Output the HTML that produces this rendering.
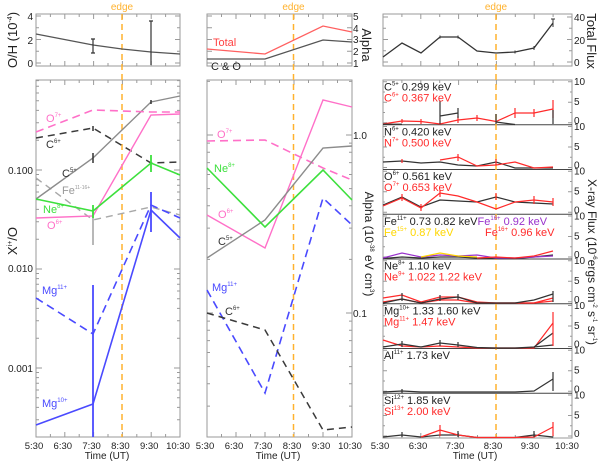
<!DOCTYPE html>
<html><head><meta charset="utf-8"><style>
html,body{margin:0;padding:0;background:#fff;}
svg{display:block;font-family:"Liberation Sans",Arial,sans-serif;}
</style></head><body>
<svg width="600" height="464" viewBox="0 0 600 464" xmlns="http://www.w3.org/2000/svg">
<defs>
<path id="lmin" d="M0 80.6h3M0 86.3h3M0 93h3M0 100.8h3M0 110.4h3M0 122.8h3M0 140.2h3M0 174.5h3M0 179.6h3M0 185.3h3M0 192h3M0 199.8h3M0 209.4h3M0 221.8h3M0 239.2h3M0 273.5h3M0 278.6h3M0 284.3h3M0 291h3M0 298.8h3M0 308.4h3M0 320.8h3M0 338.2h3M0 372.5h3M0 377.6h3M0 383.3h3M0 390h3M0 397.8h3M0 407.4h3M0 419.8h3M0 170h6M0 269h6M0 368h6"/>
<path id="mmin" d="M0 81.4h3M0 143.1h3M0 152.3h3M0 162.6h3M0 174.5h3M0 188.6h3M0 205.8h3M0 228.1h3M0 259.4h3M0 321.1h3M0 330.3h3M0 340.6h3M0 352.5h3M0 366.6h3M0 383.8h3M0 406.1h3M0 135h6M0 313h6"/>
<path id="sub" d="M0 42.75h4M0 22.25h4M0 1.75h4M0 32.5h2M0 12h2"/>
</defs>

<!-- frames -->
<g fill="none" stroke="#9a9a9a" stroke-width="1">
<rect x="36" y="14" width="144" height="52"/>
<rect x="36" y="80" width="144" height="357"/>
<rect x="207" y="14" width="145" height="52"/>
<rect x="207" y="80" width="145" height="357"/>
<rect x="383" y="14" width="189" height="52"/>
<rect x="383" y="80" width="189" height="358"/>
</g>

<!-- ticks -->
<g fill="none" stroke="#9a9a9a" stroke-width="1">
<path d="M36 63h5M36 39.5h5M36 16h5M36 51.25h3M36 27.75h3M180 63h-5M180 39.5h-5M180 16h-5M180 51.25h-3M180 27.75h-3"/>
<path d="M64.8 66v-5M93.6 66v-5M122.4 66v-5M151.2 66v-5M64.8 14v5M93.6 14v5M122.4 14v5M151.2 14v5M50.4 66v-3M79.2 66v-3M108 66v-3M136.8 66v-3M165.6 66v-3M50.4 14v3M79.2 14v3M108 14v3M136.8 14v3M165.6 14v3"/>
<path d="M64.8 437v-5M93.6 437v-5M122.4 437v-5M151.2 437v-5M64.8 80v5M93.6 80v5M122.4 80v5M151.2 80v5M50.4 437v-3M79.2 437v-3M108 437v-3M136.8 437v-3M165.6 437v-3M50.4 80v3M79.2 80v3M108 80v3M136.8 80v3M165.6 80v3"/>
<use href="#lmin" x="36"/>
<use href="#lmin" transform="translate(180,0) scale(-1,1)"/>

<path d="M207 63h5M207 51.25h5M207 39.5h5M207 27.75h5M207 16h5M352 63h-5M352 51.25h-5M352 39.5h-5M352 27.75h-5M352 16h-5"/>
<path d="M236 66v-5M265 66v-5M294 66v-5M323 66v-5M236 14v5M265 14v5M294 14v5M323 14v5M221.5 66v-3M250.5 66v-3M279.5 66v-3M308.5 66v-3M337.5 66v-3M221.5 14v3M250.5 14v3M279.5 14v3M308.5 14v3M337.5 14v3"/>
<path d="M236 437v-5M265 437v-5M294 437v-5M323 437v-5M236 80v5M265 80v5M294 80v5M323 80v5M221.5 437v-3M250.5 437v-3M279.5 437v-3M308.5 437v-3M337.5 437v-3M221.5 80v3M250.5 80v3M279.5 80v3M308.5 80v3M337.5 80v3"/>
<use href="#mmin" x="207"/>
<use href="#mmin" transform="translate(352,0) scale(-1,1)"/>

<path d="M383 62h5M383 50.75h3M383 39.5h5M383 28.25h3M383 17h5M572 62h-5M572 50.75h-3M572 39.5h-5M572 28.25h-3M572 17h-5"/>
<path d="M420.8 66v-5M458.6 66v-5M496.4 66v-5M534.2 66v-5M420.8 14v5M458.6 14v5M496.4 14v5M534.2 14v5M401.9 66v-3M439.7 66v-3M477.5 66v-3M515.3 66v-3M553.1 66v-3M401.9 14v3M439.7 14v3M477.5 14v3M515.3 14v3M553.1 14v3"/>
<path d="M420.8 438v-5M458.6 438v-5M496.4 438v-5M534.2 438v-5M420.8 80v5M458.6 80v5M496.4 80v5M534.2 80v5M401.9 438v-3M439.7 438v-3M477.5 438v-3M515.3 438v-3M553.1 438v-3M401.9 80v3M439.7 80v3M477.5 80v3M515.3 80v3M553.1 80v3"/>
<use href="#sub" transform="translate(383,80)"/>
<use href="#sub" transform="translate(383,124.75)"/>
<use href="#sub" transform="translate(383,169.5)"/>
<use href="#sub" transform="translate(383,214.25)"/>
<use href="#sub" transform="translate(383,259)"/>
<use href="#sub" transform="translate(383,303.75)"/>
<use href="#sub" transform="translate(383,348.5)"/>
<use href="#sub" transform="translate(383,393.25)"/>
<use href="#sub" transform="translate(572,80) scale(-1,1)"/>
<use href="#sub" transform="translate(572,124.75) scale(-1,1)"/>
<use href="#sub" transform="translate(572,169.5) scale(-1,1)"/>
<use href="#sub" transform="translate(572,214.25) scale(-1,1)"/>
<use href="#sub" transform="translate(572,259) scale(-1,1)"/>
<use href="#sub" transform="translate(572,303.75) scale(-1,1)"/>
<use href="#sub" transform="translate(572,348.5) scale(-1,1)"/>
<use href="#sub" transform="translate(572,393.25) scale(-1,1)"/>
</g>

<!-- subpanel dividers -->
<g stroke="#444" stroke-width="1">
<path d="M383 124.75H572M383 169.5H572M383 214.25H572M383 259H572M383 303.75H572M383 348.5H572M383 393.25H572"/>
</g>

<!-- edge lines -->
<g stroke="#ffb22e" stroke-width="1.5" stroke-dasharray="6 4" fill="none">
<path d="M122 14V437M293.5 14V437M496 14V438"/>
</g>
<g fill="#ffb22e" font-size="10" text-anchor="middle">
<text x="122" y="10">edge</text>
<text x="293.5" y="10">edge</text>
<text x="496" y="10">edge</text>
</g>

<!-- LEFT TOP -->
<g fill="none" stroke="#555" stroke-width="1.2">
<polyline points="36,34 93,45 122,49 151,52 180,54"/>
<path d="M93 39V53M91 39h4M91 53h4M151 21V65M149 21h4" stroke="#333"/>
</g>

<!-- LEFT MAIN -->
<g fill="none" stroke-width="1.4">
<polyline points="36,178 93,220 151,207 180,215" stroke="#a8a8a8" stroke-dasharray="7 5"/>
<path d="M93 211V245" stroke="#b0b0b0" stroke-width="1.8"/>
<polyline points="36,199 93,158 151,102 180,96" stroke="#8c8c8c"/>
<polyline points="36,132 93,110 151,112 180,112" stroke="#ff70c8" stroke-dasharray="8 5" stroke-width="1.6"/>
<polyline points="36,138 93,128 151,163 180,162" stroke="#3a3a3a" stroke-dasharray="7 5" stroke-width="1.5"/>
<polyline points="36,218 93,216 151,115 180,114" stroke="#ff70c8"/>
<polyline points="36,199 93,211 151,163 180,175" stroke="#3de03d" stroke-width="1.6"/>
<polyline points="36,298 93,334 151,205 180,218" stroke="#4a4aff" stroke-dasharray="8 5" stroke-width="1.6"/>
<polyline points="36,425 93,404 151,210 180,238" stroke="#4a4aff" stroke-width="1.6"/>
<path d="M93 285V437" stroke="#4a4aff" stroke-width="1.8"/>
<path d="M151 192V232" stroke="#4a4aff" stroke-width="1.8"/>
<path d="M151 155V172" stroke="#3de03d" stroke-width="1.8"/>
<path d="M93 205V218" stroke="#3de03d" stroke-width="1.8"/>
<path d="M93 153V163M151 100V104M93 126V131" stroke="#333" stroke-width="1.5"/>
</g>
<g font-size="11">
<text x="46" y="122" fill="#ff70c8">O<tspan font-size="6" dy="-5">7+</tspan></text>
<text x="46" y="148" fill="#333">C<tspan font-size="6" dy="-5">6+</tspan></text>
<text x="62" y="177" fill="#333">C<tspan font-size="6" dy="-5">5+</tspan></text>
<text x="62" y="194" fill="#999">Fe<tspan font-size="5" dy="-5">11-16+</tspan></text>
<text x="43" y="213" fill="#3de03d">Ne<tspan font-size="6" dy="-5">8+</tspan></text>
<text x="47" y="229" fill="#ff70c8">O<tspan font-size="6" dy="-5">6+</tspan></text>
<text x="42" y="294" fill="#4a4aff">Mg<tspan font-size="6" dy="-5">11+</tspan></text>
<text x="42" y="407" fill="#4a4aff">Mg<tspan font-size="6" dy="-5">10+</tspan></text>
</g>

<!-- MIDDLE TOP -->
<g fill="none" stroke-width="1.3">
<polyline points="207,49 265,54 323,26 352,32" stroke="#ff6060"/>
<polyline points="207,59 265,59 323,40 352,42" stroke="#555"/>
</g>
<text x="213" y="46" font-size="11" fill="#ff4040">Total</text>
<text x="211" y="70" font-size="11" fill="#222">C &amp; O</text>

<!-- MIDDLE MAIN -->
<g fill="none" stroke-width="1.4">
<polyline points="207,141 265,140 323,168 352,180" stroke="#ff70c8" stroke-dasharray="8 5" stroke-width="1.6"/>
<polyline points="207,215 265,248 323,100 352,107" stroke="#ff70c8"/>
<polyline points="207,258 265,220 323,148 352,146" stroke="#8c8c8c"/>
<polyline points="207,168 265,227 323,170 352,200" stroke="#3de03d" stroke-width="1.6"/>
<polyline points="207,290 265,393 323,198 352,225" stroke="#4a4aff" stroke-dasharray="8 5" stroke-width="1.6"/>
<polyline points="207,313 265,330 323,430 352,427" stroke="#3a3a3a" stroke-dasharray="7 5" stroke-width="1.5"/>
</g>
<g font-size="11">
<text x="217" y="138" fill="#ff70c8">O<tspan font-size="6" dy="-5">7+</tspan></text>
<text x="214" y="172" fill="#3de03d">Ne<tspan font-size="6" dy="-5">8+</tspan></text>
<text x="218" y="218" fill="#ff70c8">O<tspan font-size="6" dy="-5">6+</tspan></text>
<text x="218" y="245" fill="#333">C<tspan font-size="6" dy="-5">5+</tspan></text>
<text x="212" y="291" fill="#4a4aff">Mg<tspan font-size="6" dy="-5">11+</tspan></text>
<text x="225" y="315" fill="#333">C<tspan font-size="6" dy="-5">6+</tspan></text>
</g>

<!-- RIGHT TOP -->
<polyline points="383,57 402,43 421,53 440,37 458,37 477,51 496,53 515,52 534,48 553,23" fill="none" stroke="#333" stroke-width="1.3"/>
<path d="M553 19V27M551 19h4M534 46V50M515 50.5V53.5M440 35.5V38.5M458 35.5V38.5" stroke="#333" fill="none"/>

<!-- RIGHT SUBPANELS DATA -->
<g fill="none" stroke-width="1.2">
<polyline points="383,124 402,121 421,121.5 440,124 458,120 477,118 496,121.5 515,113 534,113 553,109" stroke="#ff2a2a"/>
<path d="M402 119V123M421 119V124M458 116V123M477 115V121M515 108V118M534 109V117M553 100V118" stroke="#ff2a2a"/>
<path d="M383 124.2H402M440 116L458 113M496 122L515 124.5M440 101V124M458 108V118M496 114V124M553 110V124" stroke="#333"/>
<polyline points="383,162 402,161 421,163 440,162 458,165 477,166 496,162 515,168 534,168 553,168" stroke="#333"/>
<polyline points="440,160 458,157 477,166 496,165 515,162 534,168 553,167" stroke="#ff2a2a"/>
<path d="M458 154V161M402 159V163M496 159V165" stroke="#ff2a2a"/>
<polyline points="383,205 402,197 421,207 440,200 458,201 477,202 496,197 515,202 534,203 553,204" stroke="#333"/>
<polyline points="383,206 402,198 421,208 440,193 458,196 477,202 496,209 515,202 534,200 553,202" stroke="#ff2a2a"/>
<path d="M402 194V201M421 204V211M440 190V197M496 193V200M534 196V204M553 198V206" stroke="#ff2a2a"/>
<polyline points="383,258.5 402,257 421,258 440,257 458,257 477,258 496,258.5 515,258.5 534,257 553,255" stroke="#333"/>
<polyline points="383,258 402,253 421,257 440,255 458,256 477,255 496,258 515,258 534,257 553,256" stroke="#9932cc"/>
<polyline points="421,257 440,253 458,256 477,257" stroke="#ffd700"/>
<polyline points="477,258 496,257 515,258 534,256 553,251" stroke="#ff2a2a"/>
<polyline points="383,298 402,295 421,302 440,297 458,297 477,302 496,303 515,303 534,303 553,298" stroke="#ff2a2a"/>
<polyline points="383,302 402,299 421,303 440,300 458,300 477,303 496,303 515,303 534,303 553,301" stroke="#ff2a2a"/>
<polyline points="383,303 402,299 421,303 440,299 458,297 477,303 496,303 515,303 534,300 553,294" stroke="#333"/>
<path d="M402 293V301M440 295V301M458 294V300M553 291V302" stroke="#333"/>
<polyline points="383,340 402,346 421,347 440,346 458,347 477,348 496,348 515,348 534,348 553,323" stroke="#ff2a2a"/>
<polyline points="383,347 402,344 421,347 440,343 458,345 477,347.5 496,348 515,348 534,347 553,333" stroke="#333"/>
<polyline points="534,347 553,345" stroke="#333"/>
<path d="M553 312V346" stroke="#ff2a2a"/>
<path d="M402 341V347M440 340V346M458 342V347" stroke="#333"/>
<polyline points="383,392 402,391 421,392 440,392 458,392 477,392 496,392 515,392 534,391 553,379" stroke="#333"/>
<path d="M553 372V391M402 389V393" stroke="#333"/>
<polyline points="383,437 402,435 421,437 440,435 458,435 477,437.5 496,437.5 515,437.5 534,435 553,437" stroke="#333"/>
<polyline points="421,437 440,430 458,435 477,437.5 496,437.5 515,437.5 534,437 553,427" stroke="#ff2a2a"/>
<path d="M440 425V436M553 422V436" stroke="#ff2a2a"/>
<path d="M402 432V437M458 431V437M534 431V437" stroke="#333"/>
</g>

<!-- right subpanel labels -->
<g font-size="11">
<text x="384" y="90.5" fill="#222">C<tspan font-size="6" dy="-5">5+</tspan><tspan dy="5"> 0.299 keV</tspan></text>
<text x="384" y="101.5" fill="#ff2a2a">C<tspan font-size="6" dy="-5">6+</tspan><tspan dy="5"> 0.367 keV</tspan></text>
<text x="384" y="135.25" fill="#222">N<tspan font-size="6" dy="-5">6+</tspan><tspan dy="5"> 0.420 keV</tspan></text>
<text x="384" y="146.25" fill="#ff2a2a">N<tspan font-size="6" dy="-5">7+</tspan><tspan dy="5"> 0.500 keV</tspan></text>
<text x="384" y="180" fill="#222">O<tspan font-size="6" dy="-5">6+</tspan><tspan dy="5"> 0.561 keV</tspan></text>
<text x="384" y="191" fill="#ff2a2a">O<tspan font-size="6" dy="-5">7+</tspan><tspan dy="5"> 0.653 keV</tspan></text>
<text x="384" y="224.75" fill="#222">Fe<tspan font-size="6" dy="-5">11+</tspan><tspan dy="5"> 0.73 0.82 keV</tspan><tspan fill="#9932cc">Fe</tspan><tspan fill="#9932cc" font-size="6" dy="-5">16+</tspan><tspan fill="#9932cc" dy="5"> 0.92 keV</tspan></text>
<text x="384" y="235.75" fill="#ffd700">Fe<tspan font-size="6" dy="-5">15+</tspan><tspan dy="5"> 0.87 keV</tspan></text>
<text x="485" y="235.75" fill="#ff2a2a">Fe<tspan font-size="6" dy="-5">16+</tspan><tspan dy="5"> 0.96 keV</tspan></text>
<text x="384" y="269.5" fill="#222">Ne<tspan font-size="6" dy="-5">8+</tspan><tspan dy="5"> 1.10 keV</tspan></text>
<text x="384" y="280.5" fill="#ff2a2a">Ne<tspan font-size="6" dy="-5">9+</tspan><tspan dy="5"> 1.022 1.22 keV</tspan></text>
<text x="384" y="314.25" fill="#222">Mg<tspan font-size="6" dy="-5">10+</tspan><tspan dy="5"> 1.33 1.60 keV</tspan></text>
<text x="384" y="325.25" fill="#ff2a2a">Mg<tspan font-size="6" dy="-5">11+</tspan><tspan dy="5"> 1.47 keV</tspan></text>
<text x="384" y="359" fill="#222">Al<tspan font-size="6" dy="-5">11+</tspan><tspan dy="5"> 1.73 keV</tspan></text>
<text x="384" y="403.75" fill="#222">Si<tspan font-size="6" dy="-5">12+</tspan><tspan dy="5"> 1.85 keV</tspan></text>
<text x="384" y="414.75" fill="#ff2a2a">Si<tspan font-size="6" dy="-5">13+</tspan><tspan dy="5"> 2.00 keV</tspan></text>
</g>

<!-- tick labels -->
<g font-size="10" fill="#222">
<g text-anchor="end">
<text x="33" y="20">4</text><text x="33" y="44">2</text><text x="33" y="67">0</text>
<text x="33" y="174">0.100</text><text x="33" y="272">0.010</text><text x="33" y="372">0.001</text>
</g>
<text x="353" y="20">5</text><text x="353" y="32">4</text><text x="353" y="43">3</text><text x="353" y="55">2</text><text x="353" y="67">1</text>
<text x="353" y="139">1.0</text><text x="353" y="317">0.1</text>
<text x="574" y="21">40</text><text x="574" y="44">20</text><text x="574" y="66">0</text>
<text x="574" y="85">10</text><text x="574" y="105">5</text><text x="574" y="123.75">0</text>
<text x="574" y="129.75">10</text><text x="574" y="149.75">5</text><text x="574" y="168.5">0</text>
<text x="574" y="174.5">10</text><text x="574" y="194.5">5</text><text x="574" y="213.25">0</text>
<text x="574" y="219.25">10</text><text x="574" y="239.25">5</text><text x="574" y="258">0</text>
<text x="574" y="264">10</text><text x="574" y="284">5</text><text x="574" y="302.75">0</text>
<text x="574" y="308.75">10</text><text x="574" y="328.75">5</text><text x="574" y="347.5">0</text>
<text x="574" y="353.5">10</text><text x="574" y="373.5">5</text><text x="574" y="392.25">0</text>
<text x="574" y="398.25">10</text><text x="574" y="418.25">5</text><text x="574" y="437">0</text>
</g>

<!-- x labels -->
<g font-size="9.5" fill="#222" text-anchor="middle">
<text x="34" y="449">5:30</text><text x="62.8" y="449">6:30</text><text x="91.6" y="449">7:30</text><text x="120.4" y="449">8:30</text><text x="149.2" y="449">9:30</text><text x="178" y="449">10:30</text>
<text x="205" y="449">5:30</text><text x="234" y="449">6:30</text><text x="263" y="449">7:30</text><text x="292" y="449">8:30</text><text x="321" y="449">9:30</text><text x="350" y="449">10:30</text>
<text x="380" y="449">5:30</text><text x="418" y="449">6:30</text><text x="455" y="449">7:30</text><text x="493" y="449">8:30</text><text x="530" y="449">9:30</text><text x="567" y="449">10:30</text>
<text x="107" y="459" font-size="10">Time (UT)</text>
<text x="278" y="459" font-size="10">Time (UT)</text>
<text x="475" y="459" font-size="10">Time (UT)</text>
</g>

<!-- axis titles -->
<g fill="#222">
<text transform="translate(17,40) rotate(-90)" text-anchor="middle" font-size="13">O/H (10<tspan font-size="7" dy="-5">-4</tspan><tspan dy="5">)</tspan></text>
<text transform="translate(17,241) rotate(-90)" text-anchor="middle" font-size="13">X<tspan font-size="7" dy="-5">i+</tspan><tspan dy="5">/O</tspan></text>
<text transform="translate(362,45) rotate(90)" text-anchor="middle" font-size="13">Alpha</text>
<text transform="translate(365,244) rotate(90)" text-anchor="middle" font-size="12">Alpha (10<tspan font-size="6" dy="-5">-38</tspan><tspan dy="5"> eV cm</tspan><tspan font-size="6" dy="-5">3</tspan><tspan dy="5">)</tspan></text>
<text transform="translate(587,41) rotate(90)" text-anchor="middle" font-size="13">Total Flux</text>
<text transform="translate(588,262) rotate(90)" text-anchor="middle" font-size="12">X-ray Flux (10<tspan font-size="6" dy="-5">-6</tspan><tspan dy="5">ergs cm</tspan><tspan font-size="6" dy="-5">-2</tspan><tspan dy="5"> s</tspan><tspan font-size="6" dy="-5">-1</tspan><tspan dy="5"> sr</tspan><tspan font-size="6" dy="-5">-1</tspan><tspan dy="5">)</tspan></text>
</g>
</svg>
</body></html>
